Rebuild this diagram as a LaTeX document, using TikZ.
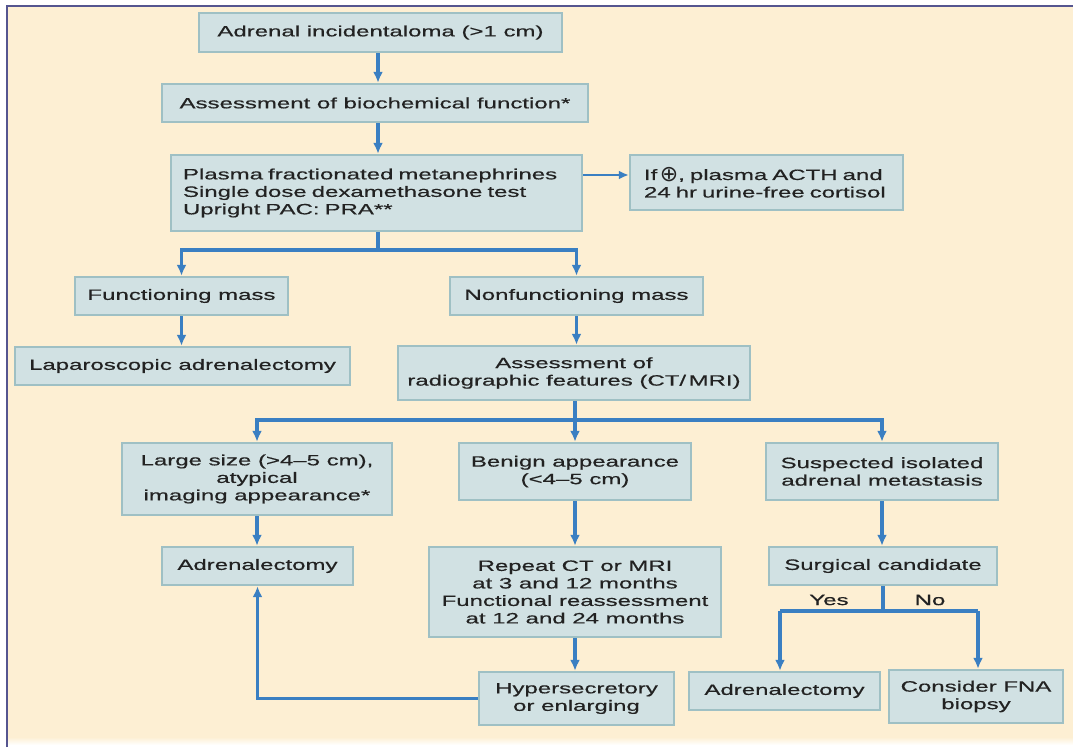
\documentclass[tikz,border=0pt]{standalone}
\usepackage{fontspec}
\setmainfont[FakeStretch=1.6,FakeBold=0.5]{Liberation Sans}
\newfontfamily\symbolfont{DejaVu Sans}
\usetikzlibrary{arrows.meta}
\definecolor{paper}{HTML}{FDEFD3}
\definecolor{frame}{HTML}{55558F}
\definecolor{boxfill}{HTML}{D1E1E3}
\definecolor{boxedge}{HTML}{9FC0C4}
\definecolor{flow}{HTML}{3A7FC2}
\definecolor{ink}{HTML}{222222}
\begin{document}
\begin{tikzpicture}[x=1pt,y=-1pt,
  box/.style={draw=boxedge, fill=boxfill, line width=2.4pt, text=ink, align=center,
    inner sep=0pt, font=\fontsize{15}{17.5}\selectfont},
  leftbox/.style={box, align=left, inner ysep=0pt},
  answer/.style={text=ink, inner sep=0pt, font=\fontsize{15}{17.5}\selectfont},
  flowline/.style={draw=flow, line width=3.2pt},
  flowarrow/.style={flowline, -{Latex[length=11pt,width=10pt]}},
  sidearrow/.style={draw=flow, line width=2.4pt, -{Latex[length=10pt,width=9pt]}}]
\useasboundingbox (0,0) rectangle (1073,747);

% page, cream panel and frame
\fill[white] (0,0) rectangle (1073,747);
\fill[paper] (7,6) rectangle (1073,737);
\shade[top color=paper, bottom color=white] (7,737) rectangle (1073,745);
\draw[frame, line width=2.6pt] (7,747) -- (7,6) -- (1073,6);

% boxes
\node[box, minimum width=363pt, minimum height=39pt] (b1) at (380.5,32.5)
  {Adrenal incidentaloma (>1 cm)};
\node[box, minimum width=426pt, minimum height=38pt] (b2) at (375,103)
  {Assessment of biochemical function*};
\node[leftbox, inner xsep=12pt, text width=387pt, minimum height=76pt] (b3) at (376.5,193)
  {Plasma fractionated metanephrines\\Single dose dexamethasone test\\Upright PAC: PRA**};
\node[leftbox, inner xsep=14pt, text width=245pt, minimum height=55pt] (b4) at (766.5,182.5)
  {If\,{\symbolfont\fontsize{22}{17.5}\selectfont\raisebox{-1.5pt}{⊕}}, plasma ACTH and\\24 hr urine-free cortisol};
\node[box, minimum width=213pt, minimum height=38pt] (b5) at (181.5,296)
  {Functioning mass};
\node[box, minimum width=253pt, minimum height=38pt] (b6) at (576.5,296)
  {Nonfunctioning mass};
\node[box, minimum width=335pt, minimum height=38pt] (b7) at (182.5,366)
  {Laparoscopic adrenalectomy};
\node[box, minimum width=352pt, minimum height=54pt] (b8) at (574,373)
  {Assessment of\\radiographic features (CT/\,MRI)};
\node[box, minimum width=270pt, minimum height=72pt] (b9) at (257,479)
  {Large size (>4–5 cm),\\atypical\\imaging appearance*};
\node[box, minimum width=232pt, minimum height=57pt] (b10) at (575,471.5)
  {Benign appearance\\(<4–5 cm)};
\node[box, minimum width=232pt, minimum height=57pt] (b11) at (882,471.5)
  {Suspected isolated\\adrenal metastasis};
\node[box, minimum width=191pt, minimum height=38pt] (b12) at (257.5,566)
  {Adrenalectomy};
\node[box, minimum width=292pt, minimum height=90pt] (b13) at (575,592)
  {Repeat CT or MRI\\at 3 and 12 months\\Functional reassessment\\at 12 and 24 months};
\node[box, minimum width=195pt, minimum height=53pt] (b14) at (576.5,698.5)
  {Hypersecretory\\or enlarging};
\node[box, minimum width=228pt, minimum height=38pt] (b15) at (883,566)
  {Surgical candidate};
\node[box, minimum width=191pt, minimum height=38pt] (b16) at (784.5,691)
  {Adrenalectomy};
\node[box, minimum width=174pt, minimum height=53pt] (b17) at (976,696.5)
  {Consider FNA\\biopsy};

\node[answer] (yes) at (829,600) {Yes};
\node[answer] (no) at (930,600) {No};

% helper coordinates for the connector routes
\coordinate (spine) at (378,0);
\coordinate (fork1) at (378,250);
\coordinate (fork2) at (575,420);
\coordinate (fork3) at (883,611);
\coordinate (yesdrop) at (780,611);
\coordinate (nodrop) at (978,611);
\coordinate (sideline) at (0,175);

% connectors
\draw[flowarrow] (b1.south -| spine) -- (b2.north -| spine);
\draw[flowarrow] (b2.south -| spine) -- (b3.north -| spine);
\draw[sidearrow] (b3.east |- sideline) -- (b4.west |- sideline);
\draw[flowline] (b3.south -| spine) -- (fork1);
\draw[flowarrow] (fork1) -| (b5.north);
\draw[flowarrow] (fork1) -| (b6.north);
\draw[flowarrow] (b5.south) -- (b7.north -| b5.south);
\draw[flowarrow] (b6.south) -- (b8.north -| b6.south);
\draw[flowline] (b8.south -| fork2) -- (fork2);
\draw[flowarrow] (fork2) -| (b9.north);
\draw[flowarrow] (fork2) -- (b10.north -| fork2);
\draw[flowarrow] (fork2) -| (b11.north);
\draw[flowarrow] (b9.south) -- (b12.north -| b9.south);
\draw[flowarrow] (b10.south) -- (b13.north -| b10.south);
\draw[flowarrow] (b13.south) -- (b14.north -| b13.south);
\draw[flowarrow] (b14.west) -| (b12.south);
\draw[flowarrow] (b11.south) -- (b15.north -| b11.south);
\draw[flowline] (b15.south) -- (fork3);
\draw[flowline] (yesdrop) -- (nodrop);
\draw[flowarrow] (yesdrop) -- (b16.north -| yesdrop);
\draw[flowarrow] (nodrop) -- (b17.north -| nodrop);
\end{tikzpicture}
\end{document}
